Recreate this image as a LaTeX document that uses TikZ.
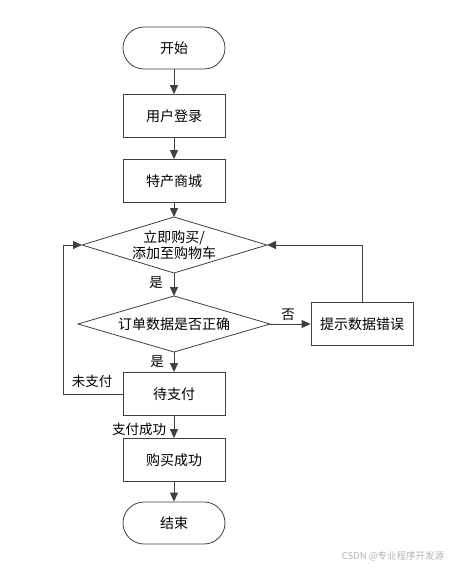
\documentclass[tikz,border=0pt]{standalone}
\usepackage{fontspec}
\setmainfont{Noto Sans CJK SC}
\usetikzlibrary{shapes.geometric,arrows.meta}
\definecolor{ln}{HTML}{404040}
\begin{document}
\begin{tikzpicture}[x=1pt,y=-1pt,
  every node/.style={font=\fontsize{14}{16}\selectfont, text=black},
  proc/.style={draw=ln, line width=0.8pt, minimum width=102pt, minimum height=43pt, inner sep=0pt},
  term/.style={draw=ln, line width=0.8pt, rounded corners=21pt, minimum width=102pt, minimum height=42pt, inner sep=0pt},
  arr/.style={draw=ln, line width=0.8pt, -{Triangle[length=9pt,width=8pt]}},
  lbl/.style={font=\fontsize{13.5}{15}\selectfont}]
\useasboundingbox (0,0) rectangle (450,568);
\node[term] (start) at (174,48) {开始};
\node[proc] (login) at (174,116) {用户登录};
\node[proc] (shop) at (174,181) {特产商城};
\draw[ln, line width=0.8pt, fill=white] (82,245) -- (174,217) -- (267,245) -- (174,273) -- cycle;
\node[align=center, inner sep=0pt] (d1) at (174,245) {立即购买/\\添加至购物车};
\coordinate (d1t) at (174,217);
\coordinate (d1b) at (174,273);
\coordinate (d1l) at (82,245);
\coordinate (d1r) at (267,245);
\draw[ln, line width=0.8pt] (78,324) -- (174,296) -- (270,324) -- (174,352) -- cycle;
\node[inner sep=0pt] (d2) at (174,324) {订单数据是否正确};
\coordinate (d2t) at (174,296);
\coordinate (d2b) at (174,352);
\coordinate (d2r) at (270,324);
\node[proc] (err) at (362,324) {提示数据错误};
\node[proc] (wait) at (174,394) {待支付};
\node[proc] (ok) at (174,460) {购买成功};
\node[term] (end) at (174,523) {结束};
\draw[arr] (start) -- (login);
\draw[arr] (login) -- (shop);
\draw[arr] (shop) -- (d1t);
\draw[arr] (d1b) -- (d2t);
\draw[arr] (d2r) -- (err);
\draw[arr] (d2b) -- (wait);
\draw[arr] (wait) -- (ok);
\draw[arr] (ok) -- (end);
\draw[arr] (err.north) |- (d1r);
\draw[arr] (wait.west) -- (63,394) |- (d1l);
\node[lbl] (yes1) at (156,283) {是};
\node[lbl] (no) at (288,315) {否};
\node[lbl] (yes2) at (157,362) {是};
\node[lbl] (unpaid) at (92,381) {未支付};
\node[lbl] (paid) at (139,429) {支付成功};
\node[font=\fontsize{9.5}{10}\selectfont, text=black!30] (wm) at (393,556) {CSDN @专业程序开发源};
\end{tikzpicture}
\end{document}
